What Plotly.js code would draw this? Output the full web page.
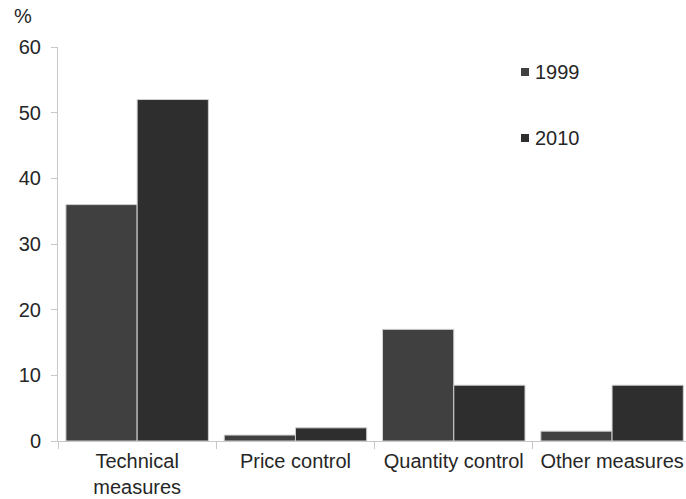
<!DOCTYPE html>
<html><head><meta charset="utf-8">
<script src="https://cdn.plot.ly/plotly-3.0.1.min.js"></script>
<style>html,body{margin:0;padding:0;background:#fff}</style>
</head><body><div id="chart" style="width:686px;height:499px"></div>
<script>
var categories = ["Technical<br>measures", "Price control", "Quantity control", "Other measures"];
var seriesNames = ["1999", "2010"];
var values1999 = [36, 0.9, 17, 1.5];
var values2010 = [52, 2, 8.5, 8.5];
var yTicks = [0, 10, 20, 30, 40, 50, 60];

var colors = ["#404040", "#2e2e2e"];
var font = "Liberation Sans, Arial, sans-serif";
var fs = 20;
var traces = [values1999, values2010].map(function (v, i) {
  return {
    type: "bar", x: categories, y: v, name: seriesNames[i],
    marker: {color: colors[i], line: {color: "#d0d0d0", width: 1}},
    showlegend: false, hoverinfo: "skip"
  };
});
var W = 628, H = 394, L = 58, T = 47;
function px(x) { return (x - L) / W; }
function py(y) { return 1 - (y - T) / H; }
var legendY = [72, 138];
var annotations = [], shapes = [];
seriesNames.forEach(function (n, i) {
  annotations.push({
    xref: "paper", yref: "paper", x: px(533), y: py(legendY[i]),
    xanchor: "left", yanchor: "middle", showarrow: false,
    text: n, font: {family: font, size: fs, color: "#262626"}
  });
  shapes.push({
    type: "rect", xref: "paper", yref: "paper",
    x0: px(521), x1: px(529), y0: py(legendY[i] - 4), y1: py(legendY[i] + 4),
    fillcolor: colors[i], line: {width: 0}
  });
});
annotations.push({
  xref: "paper", yref: "paper", x: px(12), y: py(16),
  xanchor: "left", yanchor: "middle", showarrow: false,
  text: "%", font: {family: font, size: fs, color: "#262626"}
});
var layout = {
  width: 686, height: 499,
  margin: {l: L, r: 0, t: T, b: 58},
  paper_bgcolor: "#fff", plot_bgcolor: "#fff",
  barmode: "group", bargap: 0.1, bargroupgap: 0,
  font: {family: font, size: fs, color: "#262626"},
  xaxis: {
    type: "category", range: [-0.5, 3.467], tickson: "boundaries",
    ticks: "outside", ticklen: 7, tickcolor: "#c8c8c8", tickwidth: 1,
    showline: true, linecolor: "#c8c8c8", linewidth: 1, showgrid: false,
    ticklabelstandoff: 2,
    tickfont: {family: font, size: fs, color: "#262626"}, fixedrange: true
  },
  yaxis: {
    range: [0, 60], tickvals: yTicks, ticktext: yTicks.map(String),
    ticks: "outside", ticklen: 6, tickcolor: "#c8c8c8", tickwidth: 1,
    showline: true, linecolor: "#c8c8c8", linewidth: 1, showgrid: false, zeroline: false,
    ticklabelstandoff: 6,
    tickfont: {family: font, size: fs, color: "#262626"}, fixedrange: true
  },
  annotations: annotations,
  shapes: shapes,
  showlegend: false
};
Plotly.newPlot("chart", traces, layout, {displayModeBar: false, staticPlot: true});
</script></body></html>
